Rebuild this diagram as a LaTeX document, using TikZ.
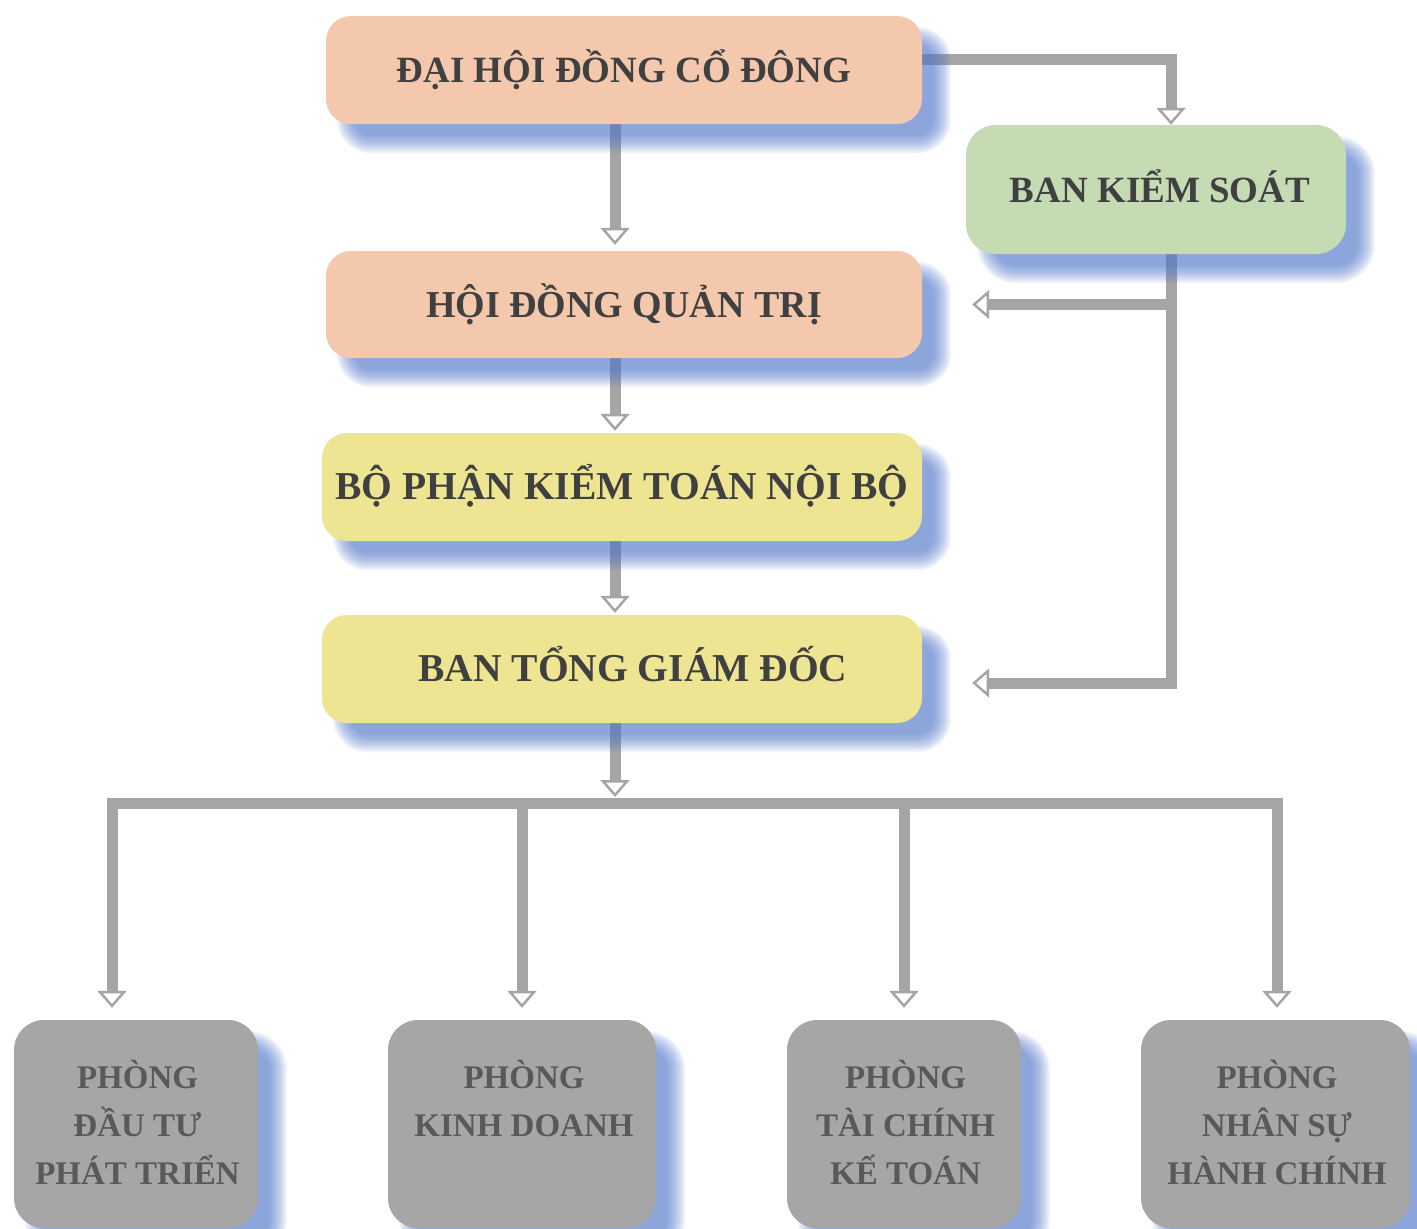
\documentclass[tikz,border=0pt]{standalone}
\usepackage{fontspec}
\setmainfont{Liberation Serif}
\usetikzlibrary{arrows.meta,calc}
\definecolor{peach}{RGB}{244,200,172}
\definecolor{sage}{RGB}{197,219,179}
\definecolor{straw}{RGB}{237,229,145}
\definecolor{boxgray}{RGB}{166,166,166}
\definecolor{linegray}{RGB}{165,165,165}
\definecolor{txtdark}{RGB}{64,64,64}
\definecolor{txtgray}{RGB}{89,89,89}
\definecolor{shblue}{RGB}{80,120,205}
\pgfdeclarelayer{conn}
\pgfdeclarelayer{shad}
\pgfsetlayers{conn,shad,main}
\newcommand{\topstrut}{\rule{0pt}{39.6pt}}
\newcommand{\nodeshadow}[2]{%
  \begin{pgfonlayer}{shad}
  \foreach \e in {-9,-7.5,...,9.1}{%
    \pgfmathsetmacro{\shA}{20-\e}%
    \pgfmathsetmacro{\shB}{-20-\e}%
    \pgfmathsetmacro{\shC}{20+\e}%
    \pgfmathsetmacro{\shD}{\e-20}%
    \pgfmathsetmacro{\shR}{#2+\e}%
    \fill[shblue, fill opacity=0.074, rounded corners=\shR pt]
      ([xshift=\shA pt, yshift=\shB pt]#1.south west) rectangle
      ([xshift=\shC pt, yshift=\shD pt]#1.north east);
  }
  \end{pgfonlayer}}
\begin{document}
\begin{tikzpicture}[x=1pt,y=-1pt,
  topbox/.style={draw=none, rounded corners=25pt, inner sep=0pt, text=txtdark,
    text height=30pt, text depth=4.8pt,
    font=\bfseries\fontsize{#1}{#1}\selectfont},
  topbox/.default=38,
  botbox/.style={draw=none, fill=boxgray, rounded corners=30pt, minimum height=208pt,
    inner sep=0pt, align=center, text=txtgray,
    font=\bfseries\fontsize{33}{48}\selectfont},
  conn/.style={draw=linegray, line width=11pt, line join=miter,
    -{Triangle[width=29pt, length=17pt, line width=2.5pt, fill=white]}},
  busline/.style={draw=linegray, line width=11pt, line cap=rect}]
\useasboundingbox (0,0) rectangle (1417,1229);
\begin{pgfonlayer}{conn}
\fill[white] (0,0) rectangle (1417,1229);
\end{pgfonlayer}

% top boxes
\node[topbox=37, fill=peach, minimum width=596pt, minimum height=108pt] (dh) at (624,70) {ĐẠI HỘI ĐỒNG CỔ ĐÔNG};
\node[topbox=37, fill=sage, rounded corners=30pt, minimum width=380pt, minimum height=129pt] (bks) at (1156,189.5) {\hspace*{8pt}BAN KIỂM SOÁT};
\node[topbox=38, fill=peach, minimum width=596pt, minimum height=107pt] (hdqt) at (624,304.5) {HỘI ĐỒNG QUẢN TRỊ};
\node[topbox=39.5, fill=straw, minimum width=600pt, minimum height=108pt] (bp) at (622,487) {BỘ PHẬN KIỂM TOÁN NỘI BỘ};
\node[topbox=39.5, fill=straw, minimum width=600pt, minimum height=108pt] (btgd) at (622,669) {\hspace*{22pt}BAN TỔNG GIÁM ĐỐC};

% bottom boxes
\node[botbox, minimum width=244pt] (p1) at (136,1124) {\topstrut\hspace*{3pt}PHÒNG\\\strut\hspace*{3pt}ĐẦU TƯ\\\strut\hspace*{3pt}PHÁT TRIỂN};
\node[botbox, minimum width=268pt] (p2) at (522,1124) {\topstrut\hspace*{4pt}PHÒNG\\\strut\hspace*{4pt}KINH DOANH\\\strut};
\node[botbox, minimum width=234pt] (p3) at (904,1124) {\topstrut\hspace*{3pt}PHÒNG\\\strut\hspace*{3pt}TÀI CHÍNH\\\strut\hspace*{3pt}KẾ TOÁN};
\node[botbox, minimum width=269pt] (p4) at (1275.5,1124) {\topstrut\hspace*{3pt}PHÒNG\\\strut\hspace*{3pt}NHÂN SỰ\\\strut\hspace*{3pt}HÀNH CHÍNH};

% shadows
\nodeshadow{dh}{25}
\nodeshadow{bks}{30}
\nodeshadow{hdqt}{25}
\nodeshadow{bp}{25}
\nodeshadow{btgd}{25}
\nodeshadow{p1}{30}
\nodeshadow{p2}{30}
\nodeshadow{p3}{30}
\nodeshadow{p4}{30}

% connectors
\begin{pgfonlayer}{conn}
\draw[conn, shorten >=6pt] ([xshift=-9pt]dh.south) -- ([xshift=-9pt]hdqt.north);
\draw[conn, shorten >=2pt] ([xshift=-9pt]hdqt.south) -- ([xshift=-7pt]bp.north);
\draw[conn, shorten >=2pt] ([xshift=-7pt]bp.south) -- ([xshift=-7pt]btgd.north);
\coordinate (busc) at (615,803);
\draw[conn, shorten >=6pt] ([xshift=-7pt]btgd.south) -- (busc);
\coordinate (b1) at (112,803);
\coordinate (b2) at (522,803);
\coordinate (b3) at (904,803);
\coordinate (b4) at (1277,803);
\draw[busline] (b1) -- (b4);
\draw[conn, shorten >=12pt] (b1) -- (b1 |- p1.north);
\draw[conn, shorten >=12pt] (b2) -- (b2 |- p2.north);
\draw[conn, shorten >=12pt] (b3) -- (b3 |- p3.north);
\draw[conn, shorten >=12pt] (b4) -- (b4 |- p4.north);
\coordinate (kv) at (1171,189);
\draw[conn] ([yshift=11pt]dh.east) -| (kv |- bks.north);
\draw[conn] (kv |- bks.south) |- ([xshift=50pt,yshift=-14pt]btgd.east);
\draw[conn] (kv |- hdqt.east) -- ([xshift=50pt]hdqt.east);
\end{pgfonlayer}
\end{tikzpicture}
\end{document}
